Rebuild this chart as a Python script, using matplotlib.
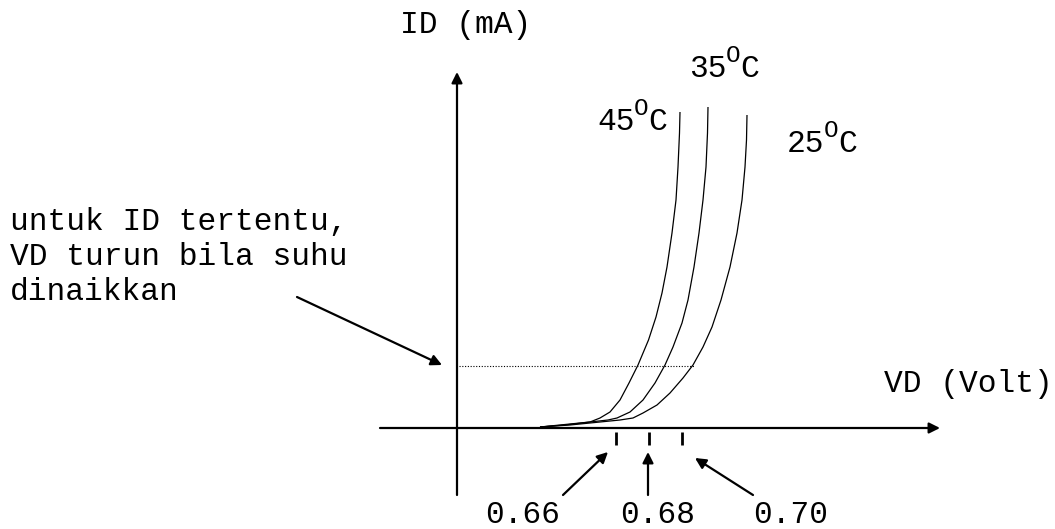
import matplotlib.pyplot as plt

plt.rcParams['font.family'] = 'Liberation Mono'

# Diagram drawn in picture units (x to the right, y downwards)
# Curves ID-VD for three temperatures
x_45 = [680, 679.5, 678, 676, 672, 667, 662, 656, 648.5, 638, 629, 620, 610, 600, 590, 580, 570, 555, 540]
y_45 = [112, 133, 167, 200, 233, 267, 293, 317, 340, 365, 383, 400, 412, 418, 422, 423, 424, 425.5, 427]
x_35 = [708, 707.5, 706, 703, 699, 694, 688, 682, 673, 665, 655, 643, 630, 617, 608, 590, 565, 540]
y_35 = [107, 133, 167, 200, 233, 267, 300, 323, 347, 365, 383, 400, 412, 418, 420, 422, 425, 427]
x_25 = [747, 746.5, 745, 742, 737, 730, 721, 712, 703, 693, 683, 670, 657, 643, 633, 620, 600, 570, 540]
y_25 = [115, 140, 167, 200, 233, 267, 300, 327, 347, 365, 378, 393, 405, 413, 418, 420, 422, 425, 427]

# Temperature labels
suhu = ['45', '35', '25']
suhu_pos = [(597, 130), (689, 77), (787, 152)]

# VD ticks
vd_label = ['0.66', '0.68', '0.70']
vd_tick_x = [616, 649, 682]
vd_label_x = [485, 620, 753]
vd_arrow_from = [(563, 495), (648, 495), (753, 495)]
vd_arrow_to = [(608, 452), (648, 452), (695, 458)]

# Reference ID level (dotted line)
id_level = 366
id_line_end = 694

keterangan = ['untuk ID tertentu,', 'VD turun bila suhu', 'dinaikkan']

fig = plt.figure(figsize=(10.55, 5.29), dpi=100)
ax = fig.add_axes([0, 0, 1, 1])
ax.set_xlim(0, 1055)
ax.set_ylim(529, 0)
ax.axis('off')

fs = 22.5
adv = fs / 72 * 100 * 0.6  # width of one monospace character in pixels
ap = dict(arrowstyle='-|>', color='black', lw=1.6, mutation_scale=16, shrinkA=0, shrinkB=0)

# Axes with arrows
ax.annotate('', xy=(457, 72), xytext=(457, 495), arrowprops=ap)
ax.annotate('', xy=(940, 428), xytext=(380, 428), arrowprops=ap)

# Curves
for xs, ys in [(x_45, y_45), (x_35, y_35), (x_25, y_25)]:
    ax.plot(xs, ys, color='black', lw=0.9, solid_capstyle='butt', solid_joinstyle='round')

# Dotted line
ax.plot([459, id_line_end], [id_level, id_level], color='black', lw=0.8, linestyle=(0, (1, 1.5)))

# Ticks, labels and arrows
ax.vlines(vd_tick_x, 432, 445, color='black', lw=2)
for lab, lx, a, b in zip(vd_label, vd_label_x, vd_arrow_from, vd_arrow_to):
    ax.text(lx, 523, lab, fontsize=fs, va='baseline', ha='left')
    ax.annotate('', xy=b, xytext=a, arrowprops=ap)

# Temperatures with a raised "O" as degree sign
for t, (tx, ty) in zip(suhu, suhu_pos):
    ax.text(tx, ty, t, fontsize=fs, va='baseline', ha='left')
    ox = tx + len(t) * adv - 1
    ax.text(ox, ty - 15, 'O', fontsize=fs * 0.78, va='baseline', ha='left')
    ax.text(ox + 0.78 * adv, ty, 'C', fontsize=fs, va='baseline', ha='left')

ax.text(400, 33, 'ID (mA)', fontsize=fs, va='baseline', ha='left')
ax.text(884, 392, 'VD (Volt)', fontsize=fs, va='baseline', ha='left')

for i, baris in enumerate(keterangan):
    ax.text(10, 230 + 35 * i, baris, fontsize=fs, va='baseline', ha='left')
ax.annotate('', xy=(442, 365), xytext=(297, 297), arrowprops=ap)

plt.savefig('out.png', dpi=100)
